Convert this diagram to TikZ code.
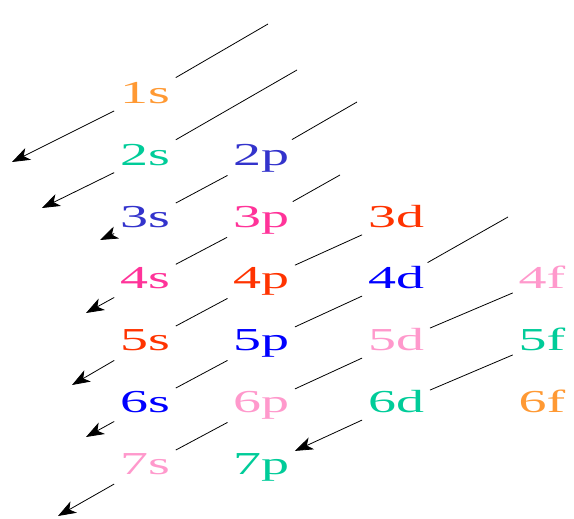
\documentclass[tikz,border=0pt]{standalone}
\usepackage{fontspec}
\setmainfont{Liberation Serif}
\usetikzlibrary{arrows.meta}

\definecolor{orborange}{RGB}{255,153,51}
\definecolor{orbteal}{RGB}{0,204,153}
\definecolor{orbviolet}{RGB}{51,51,204}
\definecolor{orbpink}{RGB}{255,51,153}
\definecolor{orbred}{RGB}{255,51,0}
\definecolor{orbblue}{RGB}{0,0,255}
\definecolor{orblight}{RGB}{255,153,204}

\begin{document}
\begin{tikzpicture}[x=1pt, y=-1pt, >={Stealth[length=18pt,width=13pt,inset=5pt]}, line width=0.8pt,
    orb/.style={font=\fontsize{32}{36}\selectfont, xscale=1.75, inner sep=3pt,
                text height=22pt, text depth=7pt, anchor=base}]
        \useasboundingbox (0,0) rectangle (574,519);

        % s 오비탈
        \node[orb, orborange] (o1s) at (145,103) {1s};
        \node[orb, orbteal]   (o2s) at (145,165) {2s};
        \node[orb, orbviolet] (o3s) at (145,227) {3s};
        \node[orb, orbpink]   (o4s) at (145,288) {4s};
        \node[orb, orbred]    (o5s) at (145,350) {5s};
        \node[orb, orbblue]   (o6s) at (145,412) {6s};
        \node[orb, orblight]  (o7s) at (145,474) {7s};

        % p 오비탈
        \node[orb, orbviolet] (o2p) at (261,165) {2p};
        \node[orb, orbpink]   (o3p) at (261,227) {3p};
        \node[orb, orbred]    (o4p) at (261,288) {4p};
        \node[orb, orbblue]   (o5p) at (261,350) {5p};
        \node[orb, orblight]  (o6p) at (261,412) {6p};
        \node[orb, orbteal]   (o7p) at (261,474) {7p};

        % d 오비탈
        \node[orb, orbred]    (o3d) at (396,227) {3d};
        \node[orb, orbblue]   (o4d) at (396,288) {4d};
        \node[orb, orblight]  (o5d) at (396,350) {5d};
        \node[orb, orbteal]   (o6d) at (396,412) {6d};

        % f 오비탈
        \node[orb, orblight]  (o4f) at (542,288) {4f};
        \node[orb, orbteal]   (o5f) at (542,350) {5f};
        \node[orb, orborange] (o6f) at (542,412) {6f};

        % 대각선 시작점과 화살표 끝점
        \coordinate (t1) at (268,24);
        \coordinate (t2) at (297,70);
        \coordinate (t3) at (357,102);
        \coordinate (t4) at (340,175);
        \coordinate (t6) at (508,217);
        \coordinate (a1) at (12,162);
        \coordinate (a2) at (42,208);
        \coordinate (a3) at (100,240);
        \coordinate (a4) at (86,313);
        \coordinate (a5) at (72,385);
        \coordinate (a6) at (86,437);
        \coordinate (a7) at (58,516);

        % 채워지는 순서 (대각선)
        \draw (t1) -- (o1s);
        \draw[->] (o1s) -- (a1);

        \draw (t2) -- (o2s);
        \draw[->] (o2s) -- (a2);

        \draw (t3) -- (o2p);
        \draw (o2p) -- (o3s);
        \draw[->] (o3s) -- (a3);

        \draw (t4) -- (o3p);
        \draw (o3p) -- (o4s);
        \draw[->] (o4s) -- (a4);

        \draw (o3d) -- (o4p);
        \draw (o4p) -- (o5s);
        \draw[->] (o5s) -- (a5);

        \draw (t6) -- (o4d);
        \draw (o4d) -- (o5p);
        \draw (o5p) -- (o6s);
        \draw[->] (o6s) -- (a6);

        \draw (o4f) -- (o5d);
        \draw (o5d) -- (o6p);
        \draw (o6p) -- (o7s);
        \draw[->] (o7s) -- (a7);

        \draw (o5f) -- (o6d);
        \draw[->] (o6d) -- (o7p);

    \end{tikzpicture}
\end{document}
